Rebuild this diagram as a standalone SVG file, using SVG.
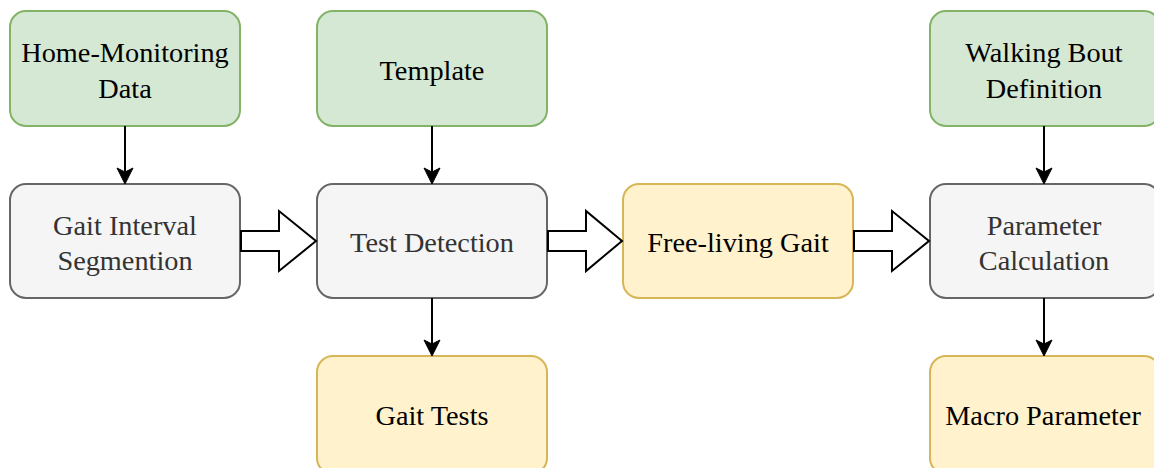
<svg xmlns="http://www.w3.org/2000/svg" width="1154" height="468" viewBox="0 0 1154 468">
<style>
.box{stroke-width:2}
.green{fill:#d5e8d4;stroke:#82b366}
.gray{fill:#f5f5f5;stroke:#666666}
.yellow{fill:#fff2cc;stroke:#d6b656}
text{font-family:"Liberation Serif","Times New Roman",serif;font-size:28.3px;text-anchor:middle}
.dark{fill:#000000}
.grayt{fill:#333333}
.line{stroke:#000;stroke-width:2;fill:none}
.head{fill:#000;stroke:#000;stroke-width:1}
.block{fill:#fff;stroke:#000;stroke-width:2;stroke-linejoin:miter}
</style>
<rect width="1154" height="468" fill="#ffffff"/>
<g id="home-monitoring">
<rect class="box green" x="10" y="11" width="230" height="115" rx="16"/>
<text class="dark" x="125" y="61.5">Home-Monitoring</text>
<text class="dark" x="125" y="97.5">Data</text>
</g>
<g id="template">
<rect class="box green" x="317" y="11" width="230" height="115" rx="16"/>
<text class="dark" x="432" y="79.5">Template</text>
</g>
<g id="walking-bout">
<rect class="box green" x="930" y="11" width="230" height="115" rx="16"/>
<text class="dark" x="1044" y="61.5">Walking Bout</text>
<text class="dark" x="1044" y="97.5">Definition</text>
</g>
<g id="gait-interval">
<rect class="box gray" x="10" y="184" width="230" height="114" rx="16"/>
<text class="grayt" x="125" y="234.5">Gait Interval</text>
<text class="grayt" x="125" y="269.5">Segmention</text>
</g>
<g id="test-detection">
<rect class="box gray" x="317" y="184" width="230" height="114" rx="16"/>
<text class="grayt" x="432" y="252">Test Detection</text>
</g>
<g id="free-living">
<rect class="box yellow" x="623" y="184" width="230" height="114" rx="16"/>
<text class="dark" x="738" y="252">Free-living Gait</text>
</g>
<g id="parameter-calculation">
<rect class="box gray" x="930" y="184" width="230" height="114" rx="16"/>
<text class="grayt" x="1044" y="234.5">Parameter</text>
<text class="grayt" x="1044" y="269.5">Calculation</text>
</g>
<g id="gait-tests">
<rect class="box yellow" x="317" y="356" width="230" height="118" rx="16"/>
<text class="dark" x="432" y="424.5">Gait Tests</text>
</g>
<g id="macro-parameter">
<rect class="box yellow" x="930" y="356" width="230" height="118" rx="16"/>
<text class="dark" x="1043" y="424.5">Macro Parameter</text>
</g>
<g id="connectors">
<line class="line" x1="125" y1="126" x2="125" y2="176"/>
<path class="head" d="M117,168 L125,184 L133,168 L125,172 Z"/>
<line class="line" x1="432" y1="126" x2="432" y2="176"/>
<path class="head" d="M424,168 L432,184 L440,168 L432,172 Z"/>
<line class="line" x1="1044" y1="126" x2="1044" y2="176"/>
<path class="head" d="M1036,168 L1044,184 L1052,168 L1044,172 Z"/>
<line class="line" x1="432" y1="298" x2="432" y2="348"/>
<path class="head" d="M424,340 L432,356 L440,340 L432,344 Z"/>
<line class="line" x1="1044" y1="298" x2="1044" y2="348"/>
<path class="head" d="M1036,340 L1044,356 L1052,340 L1044,344 Z"/>
<path class="block" d="M241,231 L279,231 L279,211 L316,241 L279,271 L279,251 L241,251 Z"/>
<path class="block" d="M548,231 L586,231 L586,211 L622,241 L586,271 L586,251 L548,251 Z"/>
<path class="block" d="M854,231 L892,231 L892,211 L929,241 L892,271 L892,251 L854,251 Z"/>
</g>
</svg>
